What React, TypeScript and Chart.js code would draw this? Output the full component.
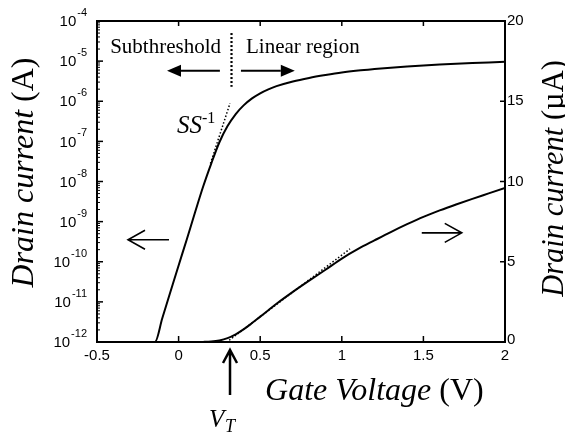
import { useEffect, useRef } from 'react';
import { Chart, registerables } from 'chart.js';

Chart.register(...registerables);

// Transfer characteristic: gate voltage (V) vs drain current (A)
const gateVoltage = [
  -0.5, -0.4, -0.3, -0.2, -0.145, -0.1, -0.05, 0, 0.05, 0.1, 0.15, 0.2, 0.25, 0.3,
  0.35, 0.4, 0.45, 0.5, 0.55, 0.6, 0.7, 0.8, 0.9, 1.0, 1.1, 1.2, 1.3, 1.4, 1.5, 1.6,
  1.7, 1.8, 1.9, 2.0,
];
const drainCurrentA = [
  1.0e-12, 1.0e-12, 1.0e-12, 1.0e-12, 1.0e-12, 3.9e-12, 1.78e-11, 8.1e-11, 3.6e-10,
  1.66e-9, 7.4e-9, 2.8e-8, 9.5e-8, 2.4e-7, 4.8e-7, 8.0e-7, 1.18e-6, 1.58e-6, 1.98e-6,
  2.38e-6, 3.12e-6, 3.82e-6, 4.5e-6, 5.2e-6, 5.8e-6, 6.33e-6, 6.85e-6, 7.34e-6,
  7.8e-6, 8.2e-6, 8.57e-6, 8.92e-6, 9.26e-6, 9.6e-6,
];

// Tangent lines: subthreshold slope (log scale) and linear extrapolation (µA scale)
const ssTangentV = [0.195, 0.315];
const ssTangentA = [2.8e-8, 8.9e-7];
const linTangentV = [0.31, 1.05];
const linTangentUA = [0.11, 5.8];

const thresholdVoltage = 0.315;

// Axis ticks
const xTickValues = [-0.5, 0, 0.5, 1, 1.5, 2];
const xTickLabels = ['-0.5', '0', '0.5', '1', '1.5', '2'];
const logExponents = [-4, -5, -6, -7, -8, -9, -10, -11, -12];
const rightTickValues = [0, 5, 10, 15, 20];

const SANS = '"Liberation Sans", Arial, sans-serif';
const SERIF = '"Liberation Serif", "Times New Roman", serif';

function filledArrow(ctx: CanvasRenderingContext2D, x1: number, x2: number, y: number) {
  const dir = Math.sign(x2 - x1);
  const head = 14;
  ctx.beginPath();
  ctx.moveTo(x1, y);
  ctx.lineTo(x2 - dir * head, y);
  ctx.lineWidth = 2;
  ctx.stroke();
  ctx.beginPath();
  ctx.moveTo(x2, y);
  ctx.lineTo(x2 - dir * head, y - 6);
  ctx.lineTo(x2 - dir * head, y + 6);
  ctx.closePath();
  ctx.fill();
}

function openArrowH(ctx: CanvasRenderingContext2D, x1: number, x2: number, y: number) {
  const dir = Math.sign(x2 - x1);
  ctx.lineWidth = 1.6;
  ctx.beginPath();
  ctx.moveTo(x1, y);
  ctx.lineTo(x2, y);
  ctx.moveTo(x2 - dir * 17, y - 9.5);
  ctx.lineTo(x2, y);
  ctx.lineTo(x2 - dir * 17, y + 9.5);
  ctx.stroke();
}

const decorations = {
  id: 'decorations',
  afterDraw(chart: any) {
    const { ctx, chartArea } = chart;
    const { left, right, top, bottom } = chartArea;
    const x = chart.scales.x;
    const yLog = chart.scales.yLog;
    const yLin = chart.scales.yLin;
    ctx.save();
    ctx.strokeStyle = '#000';
    ctx.fillStyle = '#000';

    // frame
    ctx.lineWidth = 2;
    ctx.strokeRect(left, top, right - left, bottom - top);

    // x ticks (inner, top and bottom) and labels
    ctx.lineWidth = 1.5;
    ctx.font = `15px ${SANS}`;
    ctx.textAlign = 'center';
    ctx.textBaseline = 'middle';
    xTickValues.forEach((v, i) => {
      const px = x.getPixelForValue(v);
      if (v > -0.5 && v < 2) {
        ctx.beginPath();
        ctx.moveTo(px, bottom);
        ctx.lineTo(px, bottom - 6);
        ctx.moveTo(px, top);
        ctx.lineTo(px, top + 5);
        ctx.stroke();
      }
      ctx.fillText(xTickLabels[i], px, bottom + 14);
    });

    // log axis: major / minor ticks and 10^n labels
    logExponents.forEach((e) => {
      const py = yLog.getPixelForValue(Math.pow(10, e));
      ctx.lineWidth = 1.5;
      ctx.beginPath();
      ctx.moveTo(left, py);
      ctx.lineTo(left + 6, py);
      ctx.stroke();
      if (e < -4) {
        ctx.lineWidth = 1;
        for (let k = 2; k <= 9; k++) {
          const my = yLog.getPixelForValue(k * Math.pow(10, e));
          ctx.beginPath();
          ctx.moveTo(left, my);
          ctx.lineTo(left + 3, my);
          ctx.stroke();
        }
      }
      const expText = String(e);
      ctx.font = `11px ${SANS}`;
      const ew = ctx.measureText(expText).width;
      ctx.textAlign = 'left';
      ctx.textBaseline = 'alphabetic';
      const xr = left - 10;
      ctx.fillText(expText, xr - ew, py - 5);
      ctx.font = `15px ${SANS}`;
      ctx.textAlign = 'right';
      ctx.textBaseline = 'middle';
      ctx.fillText('10', xr - ew - 1, py + 1);
    });

    // right linear axis (µA)
    ctx.lineWidth = 1.5;
    ctx.font = `15px ${SANS}`;
    ctx.textAlign = 'left';
    ctx.textBaseline = 'middle';
    rightTickValues.forEach((v) => {
      const py = yLin.getPixelForValue(v);
      if (v > 0 && v < 20) {
        ctx.beginPath();
        ctx.moveTo(right, py);
        ctx.lineTo(right - 5, py);
        ctx.stroke();
      }
      ctx.fillText(String(v), right + 2, v === 0 ? py - 2 : py);
    });

    // axis titles
    const drawMixed = (parts: [string, string][], x0: number, y0: number) => {
      let cx = x0;
      parts.forEach(([text, font]) => {
        ctx.font = font;
        ctx.fillText(text, cx, y0);
        cx += ctx.measureText(text).width;
      });
      return cx - x0;
    };
    const measureMixed = (parts: [string, string][]) =>
      parts.reduce((w, [t, f]) => {
        ctx.font = f;
        return w + ctx.measureText(t).width;
      }, 0);

    ctx.textBaseline = 'alphabetic';
    ctx.textAlign = 'left';

    const leftTitle: [string, string][] = [
      ['Drain current ', `italic 32px ${SERIF}`],
      ['(A)', `32px ${SERIF}`],
    ];
    const rightTitle: [string, string][] = [
      ['Drain current ', `italic 30.5px ${SERIF}`],
      ['(µA)', `30.5px ${SERIF}`],
    ];
    const midY = (top + bottom) / 2;
    let w = measureMixed(leftTitle);
    ctx.save();
    ctx.translate(33, midY - 9 + w / 2);
    ctx.rotate(-Math.PI / 2);
    drawMixed(leftTitle, 0, 0);
    ctx.restore();

    w = measureMixed(rightTitle);
    ctx.save();
    ctx.translate(right + 58, midY - 3 + w / 2);
    ctx.rotate(-Math.PI / 2);
    drawMixed(rightTitle, 0, 0);
    ctx.restore();

    // x axis title
    drawMixed(
      [
        ['Gate Voltage ', `italic 32px ${SERIF}`],
        ['(V)', `32px ${SERIF}`],
      ],
      x.getPixelForValue(0.53),
      bottom + 58,
    );

    // threshold voltage marker
    const vtx = x.getPixelForValue(thresholdVoltage);
    ctx.lineWidth = 2.5;
    ctx.beginPath();
    ctx.moveTo(vtx, bottom + 53);
    ctx.lineTo(vtx, bottom + 9);
    ctx.moveTo(vtx - 7, bottom + 21);
    ctx.lineTo(vtx, bottom + 8);
    ctx.lineTo(vtx + 7, bottom + 21);
    ctx.stroke();
    ctx.font = `italic 25px ${SERIF}`;
    ctx.fillText('V', vtx - 21, bottom + 85);
    ctx.font = `italic 18px ${SERIF}`;
    ctx.fillText('T', vtx - 5, bottom + 90);

    // region divider and labels
    ctx.lineWidth = 2.2;
    ctx.setLineDash([2, 2]);
    ctx.beginPath();
    ctx.moveTo(vtx + 1.5, yLog.getPixelForValue(Math.pow(10, -4.3)));
    ctx.lineTo(vtx + 1.5, yLog.getPixelForValue(Math.pow(10, -5.64)));
    ctx.stroke();
    ctx.setLineDash([]);

    ctx.font = `21px ${SERIF}`;
    const textY = yLog.getPixelForValue(Math.pow(10, -4.8));
    ctx.textAlign = 'right';
    ctx.fillText('Subthreshold', vtx - 9, textY);
    ctx.textAlign = 'left';
    ctx.fillText('Linear region', vtx + 16, textY);

    const arrowY = yLog.getPixelForValue(Math.pow(10, -5.24));
    filledArrow(ctx, x.getPixelForValue(0.253), x.getPixelForValue(-0.071), arrowY);
    filledArrow(ctx, x.getPixelForValue(0.382), x.getPixelForValue(0.712), arrowY);

    // subthreshold swing label
    const ssX = x.getPixelForValue(-0.01);
    const ssY = yLog.getPixelForValue(Math.pow(10, -6.79));
    ctx.font = `italic 25px ${SERIF}`;
    ctx.fillText('SS', ssX, ssY);
    const ssw = ctx.measureText('SS').width;
    ctx.font = `16px ${SERIF}`;
    ctx.fillText('-1', ssX + ssw, ssY - 10);

    // axis pointers
    openArrowH(
      ctx,
      x.getPixelForValue(-0.059),
      x.getPixelForValue(-0.31),
      yLog.getPixelForValue(Math.pow(10, -9.45)),
    );
    openArrowH(
      ctx,
      x.getPixelForValue(1.49),
      x.getPixelForValue(1.735),
      yLin.getPixelForValue(6.8),
    );

    ctx.restore();
  },
};

export default function App() {
  const canvasRef = useRef<HTMLCanvasElement | null>(null);

  useEffect(() => {
    if (!canvasRef.current) return;
    const logPoints = gateVoltage.map((v, i) => ({ x: v, y: drainCurrentA[i] }));
    const linPoints = gateVoltage.map((v, i) => ({ x: v, y: drainCurrentA[i] * 1e6 }));
    const chart = new Chart(canvasRef.current, {
      type: 'line',
      data: {
        datasets: [
          {
            data: logPoints,
            yAxisID: 'yLog',
            borderColor: '#000',
            borderWidth: 2,
            pointRadius: 0,
            cubicInterpolationMode: 'monotone',
          },
          {
            data: linPoints,
            yAxisID: 'yLin',
            borderColor: '#000',
            borderWidth: 2,
            pointRadius: 0,
            cubicInterpolationMode: 'monotone',
          },
          {
            data: ssTangentV.map((v, i) => ({ x: v, y: ssTangentA[i] })),
            yAxisID: 'yLog',
            borderColor: '#000',
            borderWidth: 1.5,
            borderDash: [1.5, 2],
            pointRadius: 0,
          },
          {
            data: linTangentV.map((v, i) => ({ x: v, y: linTangentUA[i] })),
            yAxisID: 'yLin',
            borderColor: '#000',
            borderWidth: 1.5,
            borderDash: [1.5, 2],
            pointRadius: 0,
          },
        ],
      },
      options: {
        animation: false,
        responsive: false,
        maintainAspectRatio: false,
        layout: { padding: { left: 97, top: 21, right: 60, bottom: 93 } },
        plugins: { legend: { display: false }, tooltip: { enabled: false } },
        scales: {
          x: { type: 'linear', min: -0.5, max: 2, display: false },
          yLog: { type: 'logarithmic', position: 'left', min: 1e-12, max: 1e-4, display: false },
          yLin: { type: 'linear', position: 'right', min: 0, max: 20, display: false },
        },
      },
      plugins: [decorations],
    });
    return () => chart.destroy();
  }, []);

  return (
    <div style={{ position: 'fixed', left: 0, top: 0, width: 565, height: 435, background: '#fff' }}>
      <canvas ref={canvasRef} width={565} height={435} />
    </div>
  );
}
